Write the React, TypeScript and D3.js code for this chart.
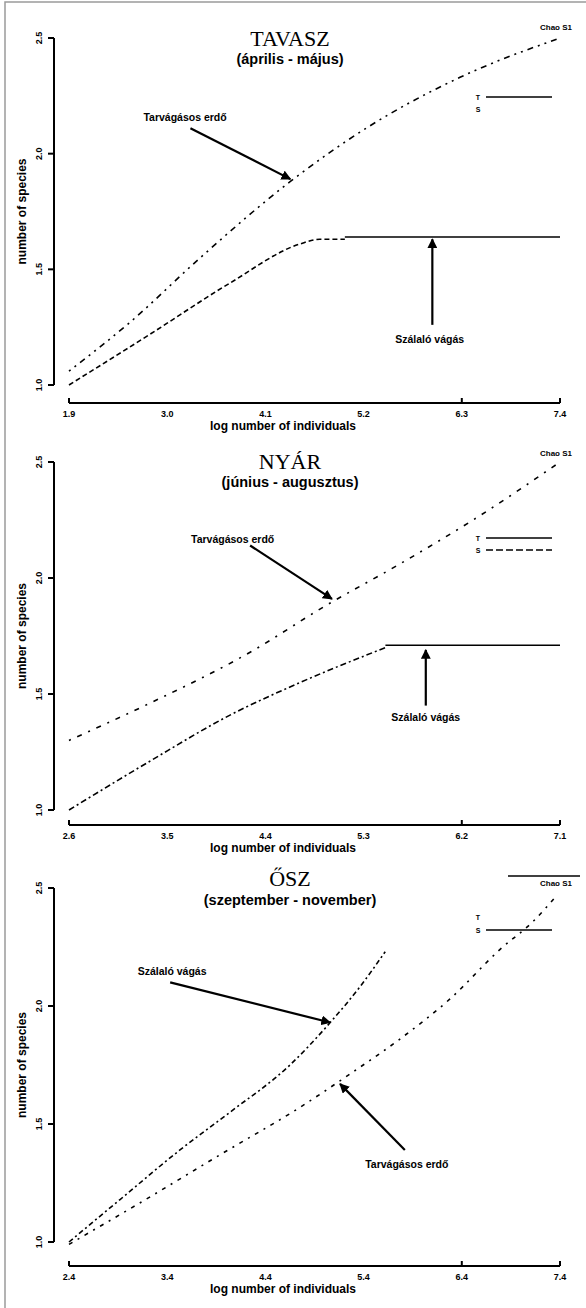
import * as d3 from 'd3';

type Pt = [number, number];

// ── Feliratok ──
const TITLES = ['TAVASZ', 'NYÁR', 'ŐSZ'];
const SUBTITLES = ['(április - május)', '(június - augusztus)', '(szeptember - november)'];
const X_LABEL = 'log number of individuals';
const Y_LABEL = 'number of species';
const CORNER_LABEL = 'Chao S1';
const LEGEND_KEYS = ['T', 'S'];
const NOTE_TAR = 'Tarvágásos erdő';
const NOTE_SZAL = 'Szálaló vágás';

// ── Tengelyek ──
const X_TICKS = [
  [1.9, 3.0, 4.1, 5.2, 6.3, 7.4],
  [2.6, 3.5, 4.4, 5.3, 6.2, 7.1],
  [2.4, 3.4, 4.4, 5.4, 6.4, 7.4],
];
const Y_TICKS = [1.0, 1.5, 2.0, 2.5];

// ── Görbék (leolvasott értékek) ──
const tavaszTar: Pt[] = [[1.9, 1.06], [2.58, 1.27], [3.37, 1.55], [4.38, 1.88], [5.27, 2.12], [6.28, 2.33], [7.4, 2.5]];
const tavaszSzal: Pt[] = [[1.9, 1.0], [2.81, 1.22], [3.7, 1.44], [4.49, 1.61], [4.71, 1.63], [4.99, 1.63]];
const tavaszSzalExt: Pt[] = [[4.99, 1.64], [7.4, 1.64]];

const nyarTar: Pt[] = [[2.6, 1.3], [3.34, 1.46], [4.26, 1.68], [4.95, 1.88], [5.63, 2.06], [6.37, 2.27], [7.1, 2.5]];
const nyarSzal: Pt[] = [[2.6, 1.0], [3.34, 1.21], [4.08, 1.41], [4.72, 1.55], [5.5, 1.7]];
const nyarSzalExt: Pt[] = [[5.5, 1.71], [7.1, 1.71]];

const oszSzal: Pt[] = [[2.4, 1.0], [2.92, 1.18], [3.53, 1.39], [4.04, 1.55], [4.65, 1.75], [5.06, 1.93], [5.36, 2.08], [5.62, 2.23]];
const oszTar: Pt[] = [[2.4, 0.99], [3.18, 1.18], [3.94, 1.37], [4.75, 1.57], [5.29, 1.72], [5.77, 1.86], [6.28, 2.03], [6.79, 2.24], [7.13, 2.36], [7.35, 2.46]];

interface Series { pts: Pt[]; dash: string; }
interface Note { text: string; at: Pt; from: Pt; to: Pt; }

const SERIES: Series[][] = [
  [
    { pts: tavaszTar, dash: '2,5,2,5,6,5' },
    { pts: tavaszSzal, dash: '5,3' },
    { pts: tavaszSzalExt, dash: 'none' },
  ],
  [
    { pts: nyarTar, dash: '2,7,5,7' },
    { pts: nyarSzal, dash: '6,3,2,3' },
    { pts: nyarSzalExt, dash: 'none' },
  ],
  [
    { pts: oszSzal, dash: '5,3,2,3' },
    { pts: oszTar, dash: '4,6,2,6' },
  ],
];

const NOTES: Note[][] = [
  [
    { text: NOTE_TAR, at: [3.2, 2.16], from: [3.26, 2.11], to: [4.38, 1.89] },
    { text: NOTE_SZAL, at: [5.94, 1.2], from: [5.97, 1.26], to: [5.97, 1.63] },
  ],
  [
    { text: NOTE_TAR, at: [4.1, 2.17], from: [4.26, 2.14], to: [5.01, 1.91] },
    { text: NOTE_SZAL, at: [5.87, 1.4], from: [5.87, 1.45], to: [5.87, 1.69] },
  ],
  [
    { text: NOTE_SZAL, at: [3.45, 2.15], from: [3.43, 2.1], to: [5.06, 1.93] },
    { text: NOTE_TAR, at: [5.84, 1.33], from: [5.82, 1.39], to: [5.16, 1.67] },
  ],
];

// legend line style per row: solid / dashed / none
const LEGEND_LINES: (string | null)[][] = [
  ['none', null],
  ['none', '7,3'],
  [null, 'none'],
];

const LAYOUT = [
  { top: 38, bottom: 385, axisY: 403, titleY: 46, subY: 64, cornerY: 30, legendY: [97, 109], overline: false },
  { top: 462, bottom: 810, axisY: 825, titleY: 469, subY: 487, cornerY: 456, legendY: [538, 550], overline: false },
  { top: 888, bottom: 1242, axisY: 1266, titleY: 886, subY: 905, cornerY: 886, legendY: [917, 930], overline: true },
];

const X0 = 69;
const X1 = 560;
const Y_AXIS_X = 54;
const SANS = 'Liberation Sans, Arial, sans-serif';
const SERIF = 'Liberation Serif, Times New Roman, serif';

function Panel({ idx }: { idx: number }) {
  const L = LAYOUT[idx];
  const ticks = X_TICKS[idx];
  const x = d3.scaleLinear().domain([ticks[0], ticks[ticks.length - 1]]).range([X0, X1]);
  const y = d3.scaleLinear().domain([Y_TICKS[0], Y_TICKS[Y_TICKS.length - 1]]).range([L.bottom, L.top]);
  const line = d3.line<Pt>().x(d => x(d[0])).y(d => y(d[1])).curve(d3.curveMonotoneX);
  const midY = (L.top + L.bottom) / 2;

  return (
    <g>
      {/* title */}
      <text x={290} y={L.titleY} textAnchor="middle" fontFamily={SERIF} fontSize={22}>{TITLES[idx]}</text>
      <text x={290} y={L.subY} textAnchor="middle" fontFamily={SANS} fontWeight="bold" fontSize={14.5}>{SUBTITLES[idx]}</text>

      {/* corner label */}
      {L.overline && <line x1={508} x2={580} y1={L.cornerY - 10} y2={L.cornerY - 10} stroke="#000" strokeWidth={1.5} />}
      <text x={572} y={L.cornerY} textAnchor="end" fontFamily={SANS} fontWeight="bold" fontSize={8}>{CORNER_LABEL}</text>

      {/* y axis */}
      <line x1={Y_AXIS_X} x2={Y_AXIS_X} y1={L.top} y2={L.bottom} stroke="#000" strokeWidth={2} />
      {Y_TICKS.map(t => (
        <g key={t}>
          <line x1={Y_AXIS_X - 6} x2={Y_AXIS_X} y1={y(t)} y2={y(t)} stroke="#000" strokeWidth={2} />
          <text transform={`translate(42,${y(t)}) rotate(-90)`} textAnchor="middle" fontFamily={SANS} fontWeight="bold" fontSize={9}>
            {t.toFixed(1)}
          </text>
        </g>
      ))}
      <text transform={`translate(26,${midY}) rotate(-90)`} textAnchor="middle" fontFamily={SANS} fontWeight="bold" fontSize={12}>
        {Y_LABEL}
      </text>

      {/* x axis */}
      <line x1={X0} x2={X1} y1={L.axisY} y2={L.axisY} stroke="#000" strokeWidth={2} />
      {ticks.map((t, i) => (
        <g key={t}>
          {(i === 0 || i >= 4) && <line x1={x(t)} x2={x(t)} y1={L.axisY - 5} y2={L.axisY} stroke="#000" strokeWidth={2} />}
          <text x={x(t)} y={L.axisY + 14} textAnchor="middle" fontFamily={SANS} fontWeight="bold" fontSize={9}>{t.toFixed(1)}</text>
        </g>
      ))}
      <text x={283} y={L.axisY + 27} textAnchor="middle" fontFamily={SANS} fontWeight="bold" fontSize={12}>{X_LABEL}</text>

      {/* curves */}
      {SERIES[idx].map((s, i) => (
        <path key={i} d={line(s.pts) ?? ''} fill="none" stroke="#000" strokeWidth={1.6}
          strokeDasharray={s.dash === 'none' ? undefined : s.dash} />
      ))}

      {/* annotations */}
      {NOTES[idx].map((n, i) => (
        <g key={i}>
          <line x1={x(n.from[0])} y1={y(n.from[1])} x2={x(n.to[0])} y2={y(n.to[1])}
            stroke="#000" strokeWidth={2.2} markerEnd="url(#ah)" />
          <text x={x(n.at[0])} y={y(n.at[1]) + 4} textAnchor="middle" fontFamily={SANS} fontWeight="bold" fontSize={10.5}>
            {n.text}
          </text>
        </g>
      ))}

      {/* legend */}
      {LEGEND_LINES[idx].map((st, i) => (
        <g key={i}>
          <text x={478} y={L.legendY[i] + 3} textAnchor="middle" fontFamily={SANS} fontWeight="bold" fontSize={7}>{LEGEND_KEYS[i]}</text>
          {st !== null && (
            <line x1={486} x2={552} y1={L.legendY[i]} y2={L.legendY[i]} stroke="#000" strokeWidth={1.6}
              strokeDasharray={st === 'none' ? undefined : st} />
          )}
        </g>
      ))}
    </g>
  );
}

export default function App() {
  return (
    <svg width={586} height={1308} style={{ position: 'absolute', left: 0, top: 0, background: '#fff' }}>
      <defs>
        <marker id="ah" viewBox="0 0 10 10" refX={9} refY={5} markerWidth={4.5} markerHeight={4.5} orient="auto">
          <path d="M0,0L10,5L0,10z" fill="#000" />
        </marker>
      </defs>
      <rect x={5} y={2} width={700} height={1400} fill="none" stroke="#9a9a9a" strokeWidth={1.5} />
      {[0, 1, 2].map(i => <Panel key={i} idx={i} />)}
    </svg>
  );
}
